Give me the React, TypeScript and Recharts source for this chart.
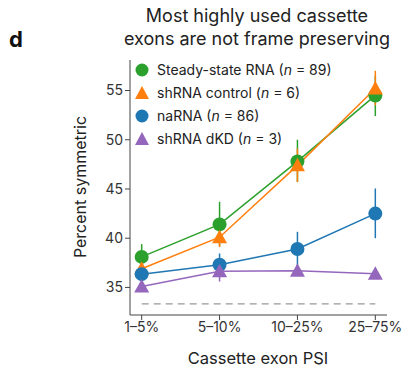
import React from "react";
import { LineChart, Line, XAxis, YAxis, ErrorBar, ReferenceLine } from "recharts";

const categories = ["1–5%", "5–10%", "10–25%", "25–75%"];
const steadyState = [38.1, 41.4, 47.8, 54.5];
const steadyStateErr = [[1.1, 1.3], [2.2, 2.3], [2.1, 2.2], [2.1, 2.0]];
const shControl = [36.9, 40.1, 47.4, 55.2];
const shControlErr = [[0.7, 0.9], [1.0, 0.9], [1.7, 1.7], [1.7, 1.8]];
const naRNA = [36.35, 37.3, 38.9, 42.5];
const naRNAErr = [[0.35, 0.45], [1.0, 1.15], [1.7, 1.75], [2.5, 2.55]];
const shDKD = [35.1, 36.65, 36.7, 36.4];
const shDKDErr = [[0.3, 0.4], [1.05, 1.05], [0.4, 0.4], [0.3, 0.3]];
const chanceLevel = 33.33;
const yTicks = [35, 40, 45, 50, 55];

const GREEN = "#2ca02c";
const ORANGE = "#ff7f0e";
const BLUE = "#1f77b4";
const PURPLE = "#9467bd";
const FONT = "Inter, 'Noto Sans', sans-serif";

const data = categories.map((c, i) => ({
  x: i,
  cat: c,
  ss: steadyState[i],
  ssErr: steadyStateErr[i],
  sc: shControl[i],
  scErr: shControlErr[i],
  na: naRNA[i],
  naErr: naRNAErr[i],
  dk: shDKD[i],
  dkErr: shDKDErr[i],
}));

const makeCircle = (color: string) => (props: any) => {
  const { cx, cy, index } = props;
  if (cx == null || cy == null) return <g key={index} />;
  return <circle key={index} cx={cx} cy={cy} r={7} fill={color} stroke="none" />;
};

const makeTriangle = (color: string) => (props: any) => {
  const { cx, cy, index } = props;
  if (cx == null || cy == null) return <g key={index} />;
  const s = 7.5;
  const pts = `${cx},${cy - s} ${cx + s},${cy + s * 0.8} ${cx - s},${cy + s * 0.8}`;
  return <polygon key={index} points={pts} fill={color} stroke="none" />;
};

const legendItems = [
  { label: "Steady-state RNA", n: "89", color: GREEN, shape: "circle" },
  { label: "shRNA control", n: "6", color: ORANGE, shape: "triangle" },
  { label: "naRNA", n: "86", color: BLUE, shape: "circle" },
  { label: "shRNA dKD", n: "3", color: PURPLE, shape: "triangle" },
];

export default function App() {
  return (
    <div style={{ position: "absolute", left: 0, top: 0, width: 411, height: 370, background: "#fff", fontFamily: FONT }}>
      <LineChart width={411} height={370} data={data} margin={{ top: 60, right: 24, bottom: 0, left: 0 }}>
        <XAxis
          dataKey="x"
          type="number"
          domain={[-0.15, 3.15]}
          ticks={[0, 1, 2, 3]}
          tickFormatter={(v: number) => categories[v]}
          height={55}
          stroke="#444"
          tickSize={5}
          tick={{ fill: "#333", fontSize: 14, fontFamily: FONT }}
          allowDataOverflow
        />
        <YAxis
          type="number"
          domain={[32.2, 58.1]}
          ticks={yTicks}
          width={130}
          stroke="#444"
          tickSize={5}
          tick={{ fill: "#333", fontSize: 14, fontFamily: FONT }}
          allowDataOverflow
        />
        <ReferenceLine
          segment={[{ x: 0, y: chanceLevel }, { x: 3, y: chanceLevel }]}
          stroke="#999"
          strokeWidth={1.3}
          strokeDasharray="7 5"
        />
        <Line dataKey="ss" stroke={GREEN} strokeWidth={1.5} dot={makeCircle(GREEN)} activeDot={false} isAnimationActive={false}>
          <ErrorBar dataKey="ssErr" width={0} stroke={GREEN} strokeWidth={1.5} direction="y" />
        </Line>
        <Line dataKey="sc" stroke={ORANGE} strokeWidth={1.5} dot={makeTriangle(ORANGE)} activeDot={false} isAnimationActive={false}>
          <ErrorBar dataKey="scErr" width={0} stroke={ORANGE} strokeWidth={1.5} direction="y" />
        </Line>
        <Line dataKey="na" stroke={BLUE} strokeWidth={1.5} dot={makeCircle(BLUE)} activeDot={false} isAnimationActive={false}>
          <ErrorBar dataKey="naErr" width={0} stroke={BLUE} strokeWidth={1.5} direction="y" />
        </Line>
        <Line dataKey="dk" stroke={PURPLE} strokeWidth={1.5} dot={makeTriangle(PURPLE)} activeDot={false} isAnimationActive={false}>
          <ErrorBar dataKey="dkErr" width={0} stroke={PURPLE} strokeWidth={1.5} direction="y" />
        </Line>
      </LineChart>
      <div style={{ position: "absolute", left: 9, top: 26, fontSize: 22, fontWeight: 700, color: "#111" }}>d</div>
      <div style={{ position: "absolute", left: 100, width: 314, top: 4, textAlign: "center", fontSize: 18, lineHeight: "23px", color: "#222" }}>
        Most highly used cassette
        <br />
        exons are not frame preserving
      </div>
      <div
        style={{
          position: "absolute",
          left: 80,
          top: 187,
          transform: "translate(-50%, -50%) rotate(-90deg)",
          whiteSpace: "nowrap",
          fontSize: 16,
          color: "#222",
        }}
      >
        Percent symmetric
      </div>
      <div style={{ position: "absolute", left: 258, top: 358, transform: "translate(-50%, -50%)", whiteSpace: "nowrap", fontSize: 16.5, color: "#222" }}>
        Cassette exon PSI
      </div>
      <div style={{ position: "absolute", left: 134, top: 58, fontSize: 14, color: "#222" }}>
        {legendItems.map((it) => (
          <div key={it.label} style={{ display: "flex", alignItems: "center", height: 23 }}>
            <svg width={16} height={16} style={{ marginRight: 7 }}>
              {it.shape === "circle" ? (
                <circle cx={8} cy={8} r={6.5} fill={it.color} />
              ) : (
                <polygon points="8,1 15,14 1,14" fill={it.color} />
              )}
            </svg>
            <span>
              {it.label} (<i>n</i> = {it.n})
            </span>
          </div>
        ))}
      </div>
    </div>
  );
}
